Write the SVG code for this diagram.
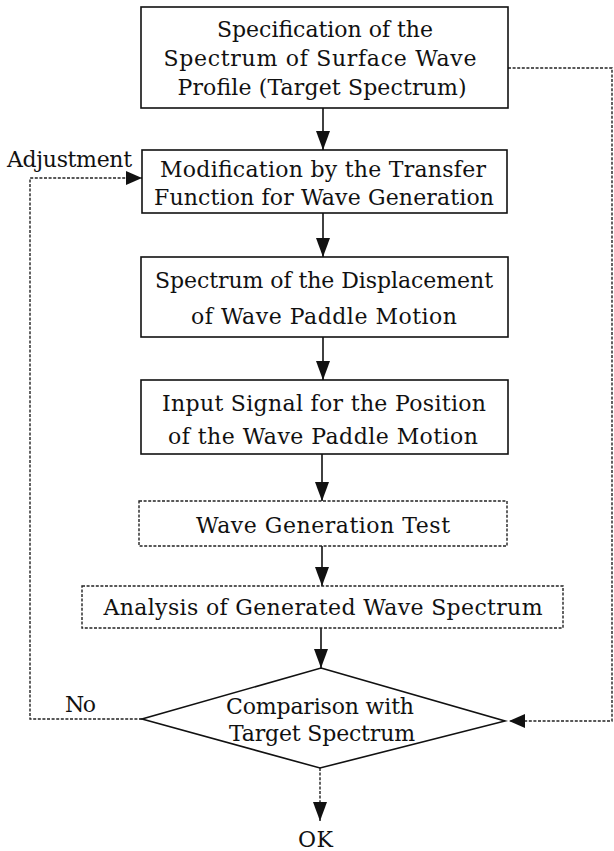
<svg xmlns="http://www.w3.org/2000/svg" width="614" height="851" viewBox="0 0 614 851">
<style>
.box{fill:#fff;stroke:#111;stroke-width:1.6}
.dbox{fill:#fff;stroke:#222;stroke-width:1.4;stroke-dasharray:3 1.6}
.t{font-family:"DejaVu Serif","Liberation Serif",serif;font-size:22px;fill:#111;text-anchor:middle}
.l{font-family:"DejaVu Serif","Liberation Serif",serif;font-size:22px;fill:#111}
.c{fill:none;stroke:#111;stroke-width:1.6}
.d{fill:none;stroke:#222;stroke-width:1.4;stroke-dasharray:3 1.6}
</style>
<defs>
<marker id="ah" viewBox="0 0 16 14" refX="16" refY="7" markerWidth="16" markerHeight="14" markerUnits="userSpaceOnUse" orient="auto">
<path d="M0,0 L16,7 L0,14 Z" fill="#111"/>
</marker>
<marker id="ahs" viewBox="0 0 19 14" refX="19" refY="7" markerWidth="19" markerHeight="14" markerUnits="userSpaceOnUse" orient="auto">
<path d="M0,0 L19,7 L0,14 Z" fill="#111"/>
</marker>
</defs>
<g id="connectors">
<line class="c" x1="323" y1="108" x2="323" y2="150" marker-end="url(#ahs)"/>
<line class="c" x1="323" y1="213" x2="323" y2="257" marker-end="url(#ahs)"/>
<line class="c" x1="323" y1="337" x2="323" y2="380" marker-end="url(#ahs)"/>
<line class="c" x1="322" y1="454" x2="322" y2="501" marker-end="url(#ahs)"/>
<line class="c" x1="322" y1="546" x2="322" y2="586" marker-end="url(#ahs)"/>
<line class="c" x1="321" y1="628" x2="321" y2="668" marker-end="url(#ahs)"/>
<line class="d" x1="320" y1="768" x2="320" y2="821" marker-end="url(#ahs)"/>
<polyline class="d" points="142,719 30,719 30,178 142,178" marker-end="url(#ah)"/>
<polyline class="d" points="508,68 612,68 612,721 509,721" marker-end="url(#ah)"/>
</g>
<g id="n1">
<rect class="box" x="141" y="7" width="367" height="101"/>
<text class="t" x="325" y="37" textLength="216" lengthAdjust="spacing">Specification of the</text>
<text class="t" x="320" y="66" textLength="313" lengthAdjust="spacing">Spectrum of Surface Wave</text>
<text class="t" x="322" y="95" textLength="289" lengthAdjust="spacing">Profile (Target Spectrum)</text>
</g>
<g id="n2">
<rect class="box" x="142" y="150" width="365" height="63"/>
<text class="t" x="323" y="177" textLength="326" lengthAdjust="spacing">Modification by the Transfer</text>
<text class="t" x="324" y="205" textLength="340" lengthAdjust="spacing">Function for Wave Generation</text>
</g>
<g id="n3">
<rect class="box" x="141" y="257" width="367" height="80"/>
<text class="t" x="324" y="288" textLength="338" lengthAdjust="spacing">Spectrum of the Displacement</text>
<text class="t" x="324" y="324" textLength="266" lengthAdjust="spacing">of Wave Paddle Motion</text>
</g>
<g id="n4">
<rect class="box" x="141" y="380" width="367" height="74"/>
<text class="t" x="324" y="411" textLength="324" lengthAdjust="spacing">Input Signal for the Position</text>
<text class="t" x="323" y="444" textLength="310" lengthAdjust="spacing">of the Wave Paddle Motion</text>
</g>
<g id="n5">
<rect class="dbox" x="139" y="501" width="368" height="45"/>
<text class="t" x="323" y="533" textLength="254" lengthAdjust="spacing">Wave Generation Test</text>
</g>
<g id="n6">
<rect class="dbox" x="82" y="586" width="481" height="42"/>
<text class="t" x="323" y="615" textLength="439" lengthAdjust="spacing">Analysis of Generated Wave Spectrum</text>
</g>
<g id="n7">
<polygon class="box" points="321,668 505,721 320,768 142,719"/>
<text class="t" x="320" y="714" textLength="188" lengthAdjust="spacing">Comparison with</text>
<text class="t" x="322" y="741" textLength="186" lengthAdjust="spacing">Target Spectrum</text>
</g>
<g id="labels">
<text class="l" x="7" y="167" textLength="125" lengthAdjust="spacing">Adjustment</text>
<text class="l" x="65" y="712" textLength="31" lengthAdjust="spacing">No</text>
<text class="l" x="298" y="847" textLength="35" lengthAdjust="spacing">OK</text>
</g>
</svg>
